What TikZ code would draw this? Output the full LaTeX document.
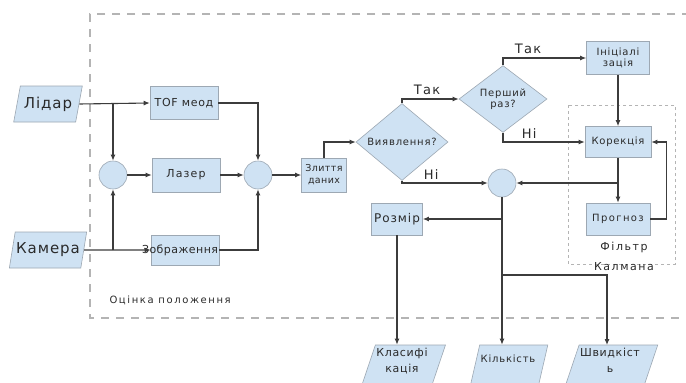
\documentclass[tikz,border=0pt]{standalone}
\usepackage{fontspec}
\setmainfont{DejaVu Sans}
\usetikzlibrary{shapes.geometric,arrows.meta}
\definecolor{boxfill}{HTML}{CFE2F3}
\definecolor{boxline}{HTML}{9DA8B3}
\definecolor{wire}{HTML}{3C3C3C}
\definecolor{frame}{HTML}{B4B4B4}
\definecolor{txt}{HTML}{2A2A2A}
\newcommand{\spaced}[1]{\addfontfeature{LetterSpace=#1}}
\tikzset{
  box/.style={draw=boxline, fill=boxfill, line width=0.6pt, inner sep=1pt, align=center, text=txt, font=\fontsize{10}{11}\selectfont\spaced{8}},
  para/.style={box, trapezium, trapezium left angle=70, trapezium right angle=110, trapezium stretches=true},
  junc/.style={draw=boxline, fill=boxfill, circle, line width=0.6pt, minimum size=28pt, inner sep=0pt},
  dec/.style={box, diamond, inner sep=0pt},
  wirel/.style={draw=wire, line width=1.1pt},
  arr/.style={wirel, -{Latex[length=6pt,width=5pt]}},
  lbl/.style={text=txt, font=\fontsize{13}{14}\selectfont\spaced{10}},
  note/.style={text=txt, align=center}
}
\begin{document}
\begin{tikzpicture}[x=1pt,y=-1pt]
\useasboundingbox (0,0) rectangle (686,383);
\fill[white] (0,0) rectangle (686,383);
% frames
\draw[frame, line width=1.3pt, dash pattern=on 8pt off 7pt] (720,14) -- (90,14) -- (90,318) -- (720,318);
\draw[frame, line width=0.7pt, dash pattern=on 3pt off 3pt] (568,105) rectangle (675,264);
% inputs
\node[para, minimum width=69pt, minimum height=36pt, font=\fontsize{15}{16}\selectfont\spaced{6}] (lidar) at (48,104) {Лідар};
\node[para, minimum width=69pt, minimum height=36pt, font=\fontsize{15}{16}\selectfont\spaced{6}] (cam) at (48,250) {Камера};
% left blocks
\node[box, minimum width=68pt, minimum height=33pt, font=\fontsize{11}{12}\selectfont\spaced{6}] (tof) at (184,103) {TOF меод};
\node[box, minimum width=68pt, minimum height=34pt, font=\fontsize{11}{12}\selectfont\spaced{10}] (laser) at (186,175) {Лазер};
\node[box, minimum width=68pt, minimum height=30pt, font=\fontsize{11}{12}\selectfont\spaced{4}] (img) at (185,250) {\makebox[66pt][r]{Зображення}};
\node[junc] (c1) at (113,175) {};
\node[junc] (c2) at (258,175) {};
\node[box, minimum width=45pt, minimum height=34pt, font=\fontsize{9.5}{12}\selectfont\spaced{4}] (merge) at (324,175) {Злиття\\даних};
% decisions
\node[dec, minimum width=92pt, minimum height=52pt] (det) at (402,142) {Виявлення?};
\node[dec, minimum width=88pt, minimum height=52pt] (first) at (503,99) {Перший\\раз?};
% Kalman
\node[box, minimum width=63pt, minimum height=33pt] (init) at (618,58) {Ініціалі\\зація};
\node[box, minimum width=66pt, minimum height=31pt] (corr) at (618,142) {Корекція};
\node[box, minimum width=64pt, minimum height=32pt, font=\fontsize{10}{11}\selectfont\spaced{14}] (pred) at (618,219) {Прогноз};
\node[note, font=\fontsize{11}{20}\selectfont\spaced{14}] (kal) at (624,256) {Фільтр\\Калмана};
% outputs
\node[junc] (c3) at (502,183) {};
\node[box, minimum width=51pt, minimum height=32pt, font=\fontsize{12}{13}\selectfont\spaced{8}] (size) at (397,219) {Розмір};
\node[para, minimum width=72pt, minimum height=50pt, font=\fontsize{11}{16}\selectfont\spaced{6}] (class) at (402,370) {Класифі\\кація\\[4pt]};
\node[para, minimum width=74pt, minimum height=50pt, font=\fontsize{10}{14}\selectfont\spaced{8}] (count) at (508,370) {Кількість\\[8pt]};
\node[para, minimum width=72pt, minimum height=50pt, font=\fontsize{11}{16}\selectfont\spaced{6}] (speed) at (610,370) {Швидкіст\\ь\\[4pt]};
\node[note, anchor=west, font=\fontsize{10}{11}\selectfont\spaced{16}] (est) at (106,300) {Оцінка положення};
% connectors
\coordinate (j1) at (c1.center |- lidar.east);
\coordinate (j2) at (c1.center |- cam.east);
\draw[arr] (lidar.east) -- (tof.west);
\draw[arr] (j1) -- (c1.north);
\draw[arr] (cam.east) -- (img.west);
\draw[arr] (j2) -- (c1.south);
\draw[arr] (c1) -- (laser);
\draw[arr] (laser) -- (c2);
\draw[arr] (tof.east) -| (c2.north);
\draw[arr] (img.east) -| (c2.south);
\draw[arr] (c2) -- (merge);
\draw[arr] (merge.north) |- (det.west);
\draw[arr] (det.north) |- node[lbl, pos=0.72, above] {Так} (first.west);
\draw[arr] (first.north) |- node[lbl, pos=0.65, above] {Так} (init.west);
\draw[arr] (first.south) |- node[lbl, pos=0.25, anchor=west, xshift=15pt, yshift=4pt] {Ні} (corr.west);
\draw[arr] (det.south) |- node[lbl, pos=0.67, above] {Ні} (c3.west);
\draw[arr] (init) -- (corr);
\draw[arr] (corr) -- (pred);
\coordinate (j3) at (corr.south |- c3.east);
\draw[arr] (j3) -- (c3.east);
\coordinate (k1) at ([xshift=16pt]pred.east);
\draw[arr] (pred.east) -- (k1) |- (corr.east);
\coordinate (j4) at (c3.south |- size.east);
\coordinate (j5) at (502,275);
\draw[wirel] (c3.south) -- (j4);
\draw[arr] (j4) -- (size.east);
\draw[arr] (c3.south) -- (c3.south |- count.north);
\draw[arr] (j5) -| (607,345);
\draw[arr] (size.south) -- (size.south |- class.north);
\end{tikzpicture}
\end{document}
